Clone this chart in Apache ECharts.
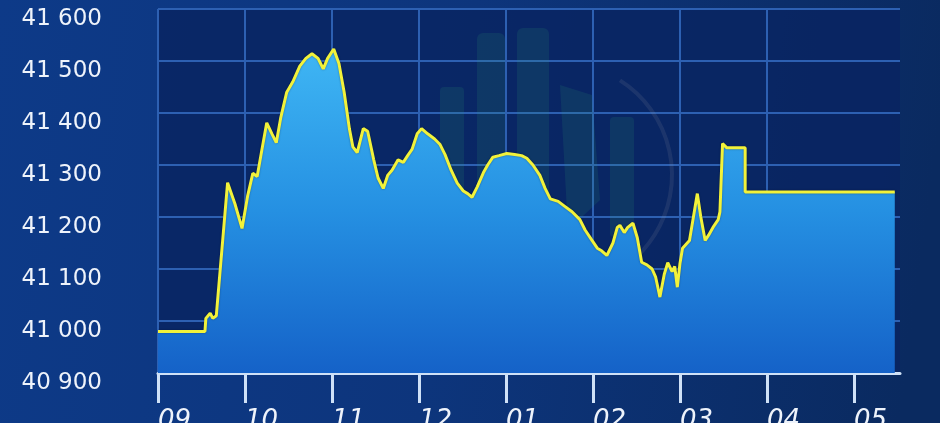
<!DOCTYPE html>
<html><head><meta charset="utf-8">
<script src="https://cdn.jsdelivr.net/npm/echarts@6/dist/echarts.min.js"></script>
<style>html,body{margin:0;padding:0;background:#0b2c66;overflow:hidden}#c{width:940px;height:423px}</style>
</head><body><div id="c"></div>
<script>
// hour labels along the time axis (one per hour, starting 09)
const xLabels = ['09','10','11','12','01','02','03','04','05'];
// price scale
const yMin = 40900, yMax = 41600, yStep = 100;
// time in hours after 09:00
const times = [0,0.54,0.55,0.6,0.63,0.67,0.80,0.885,0.966,1.03,1.09,1.14,1.195,1.25,1.31,1.36,1.41,1.48,1.55,1.63,1.70,1.77,1.84,1.90,1.95,2.02,2.08,2.14,2.20,2.24,2.29,2.36,2.41,2.48,2.53,2.59,2.64,2.69,2.76,2.82,2.87,2.92,2.98,3.03,3.10,3.18,3.24,3.30,3.37,3.44,3.51,3.56,3.61,3.67,3.74,3.79,3.85,3.92,4.01,4.10,4.18,4.24,4.31,4.39,4.45,4.51,4.60,4.68,4.76,4.85,4.91,4.97,5.05,5.10,5.16,5.23,5.28,5.31,5.36,5.40,5.46,5.51,5.56,5.62,5.68,5.72,5.77,5.82,5.86,5.91,5.94,5.97,6.00,6.03,6.11,6.16,6.20,6.24,6.29,6.33,6.38,6.44,6.46,6.49,6.54,6.75,6.75,8.47];
// index level
const values = [40980,40980,41005,41015,41005,41010,41266,41225,41178,41240,41284,41278,41330,41381,41360,41343,41390,41440,41460,41490,41505,41514,41505,41485,41505,41523,41495,41440,41370,41335,41324,41370,41365,41310,41275,41255,41280,41290,41310,41305,41318,41330,41360,41370,41360,41350,41340,41320,41290,41265,41250,41245,41238,41258,41285,41300,41315,41318,41322,41320,41318,41313,41300,41280,41255,41235,41230,41220,41210,41195,41175,41160,41140,41135,41126,41150,41180,41184,41170,41180,41188,41160,41113,41108,41100,41085,41046,41090,41112,41095,41105,41065,41110,41140,41155,41205,41245,41200,41155,41165,41180,41195,41210,41341,41333,41333,41248,41248];

const data = times.map((t, i) => [t, values[i]]);
const hourIdx = xLabels.map((_, i) => i);

const chart = echarts.init(document.getElementById('c'));
const wm = 'rgba(50,160,110,0.14)';
chart.setOption({
  animation: false,
  backgroundColor: {
    type: 'linear', x: 0, y: 0, x2: 1, y2: 0.3,
    colorStops: [
      {offset: 0, color: '#0d3a88'},
      {offset: 0.5, color: '#0d357c'},
      {offset: 1, color: '#0a2a60'}
    ]
  },
  grid: {left: 158, right: 40, top: 9, bottom: 50, show: true, containLabel: false,
         outerBoundsMode: 'none',
         backgroundColor: 'rgba(9,36,98,0.85)', borderWidth: 0},
  graphic: [
    {type: 'rect', z: 1, shape: {x: 440, y: 87, width: 24, height: 170, r: 4}, style: {fill: wm}},
    {type: 'rect', z: 1, shape: {x: 477, y: 33, width: 28, height: 230, r: 6}, style: {fill: wm}},
    {type: 'rect', z: 1, shape: {x: 517, y: 28, width: 32, height: 230, r: 6}, style: {fill: wm}},
    {type: 'polygon', z: 1, shape: {points: [[560,85],[592,95],[600,200],[568,230]]}, style: {fill: wm}},
    {type: 'rect', z: 1, shape: {x: 610, y: 117, width: 24, height: 120, r: 4}, style: {fill: wm}},
    {type: 'arc', z: 1, shape: {cx: 560, cy: 175, r: 112, startAngle: -Math.PI * 0.32, endAngle: Math.PI * 0.4},
     style: {stroke: 'rgba(150,150,160,0.14)', lineWidth: 4, fill: null}}
  ],
  xAxis: {
    type: 'value', min: 0, max: 8.53, interval: 1,
    axisLine: {show: true, lineStyle: {color: '#cfe1f7', width: 3}},
    axisTick: {show: true, length: 30, customValues: hourIdx, lineStyle: {color: '#cfe1f7', width: 3}},
    axisLabel: {
      customValues: hourIdx, margin: 35, align: 'left',
      color: '#eef3fb', fontSize: 26, fontStyle: 'italic', fontFamily: 'DejaVu Sans',
      formatter: v => xLabels[Math.round(v)] || ''
    },
    splitLine: {show: true, showMaxLine: false, lineStyle: {color: '#2d60b2', width: 2}}
  },
  yAxis: {
    type: 'value', min: yMin, max: yMax, interval: yStep,
    axisLine: {show: false}, axisTick: {show: false},
    axisLabel: {
      margin: 56, color: '#eef3fb', fontSize: 23, fontFamily: 'DejaVu Sans',
      formatter: v => '{a|' + String(v).replace(/(\d{2})(\d{3})$/, '$1 $2') + '}',
      rich: {a: {padding: [20, 0, 0, 0], color: '#eef3fb', fontSize: 23, fontFamily: 'DejaVu Sans'}}
    },
    splitLine: {show: true, lineStyle: {color: '#2d60b2', width: 2}}
  },
  series: [{
    type: 'line', data: data, symbol: 'none', smooth: false, z: 3,
    lineStyle: {color: '#f2f23a', width: 3, shadowColor: 'rgba(0,0,0,0.35)', shadowBlur: 2},
    areaStyle: {
      opacity: 1,
      color: {type: 'linear', x: 0, y: 0, x2: 0, y2: 1,
        colorStops: [{offset: 0, color: '#3fb6f4'}, {offset: 0.5, color: '#2590e2'}, {offset: 1, color: '#1562c8'}]}
    }
  }]
});
</script></body></html>
